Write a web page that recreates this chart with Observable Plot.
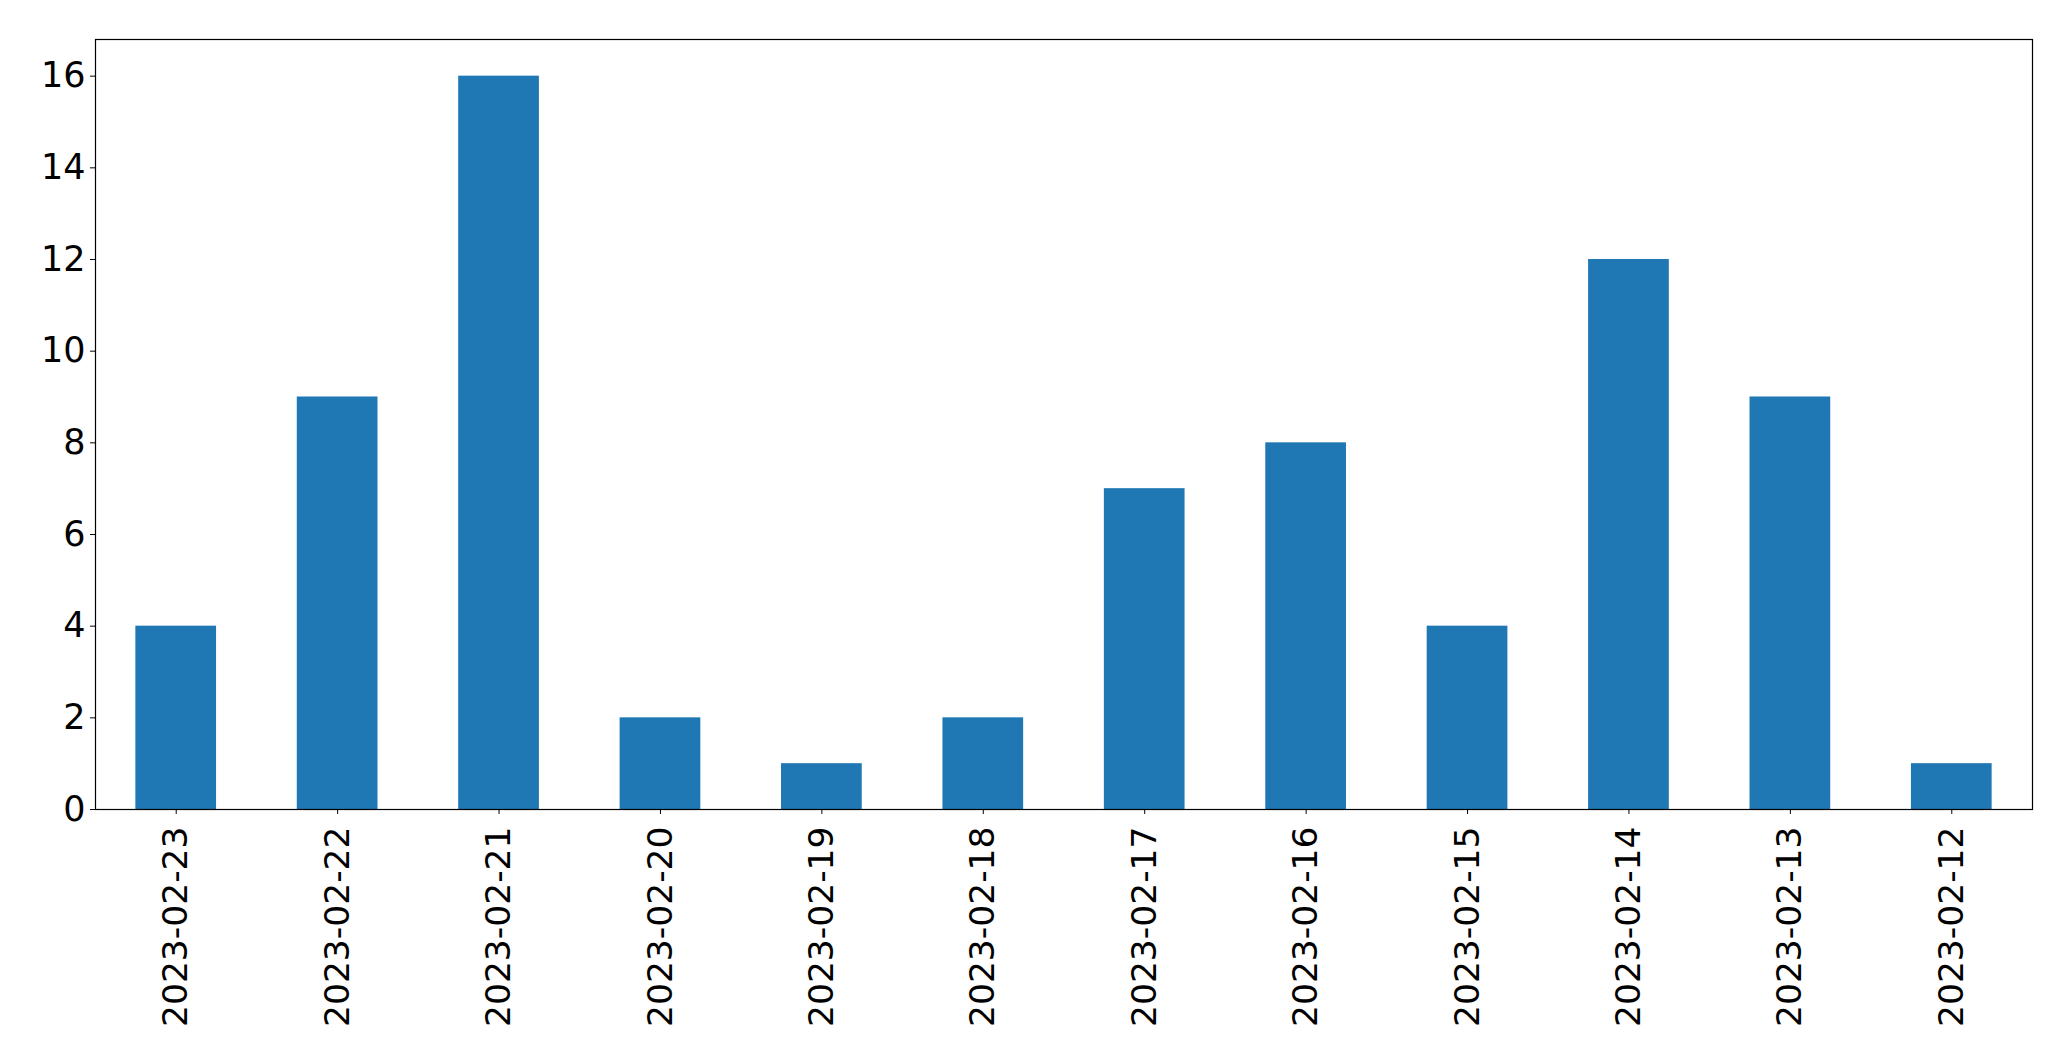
<!DOCTYPE html>
<html>
<head>
<meta charset="utf-8">
<script src="https://cdn.jsdelivr.net/npm/d3@7"></script>
<script src="https://cdn.jsdelivr.net/npm/@observablehq/plot@0.6"></script>
<style>
  html, body { margin: 0; padding: 0; background: #fff; }
  #chart svg { display: block; }
</style>
</head>
<body>
<div id="chart"></div>
<script>
const dates = ["2023-02-23","2023-02-22","2023-02-21","2023-02-20","2023-02-19","2023-02-18","2023-02-17","2023-02-16","2023-02-15","2023-02-14","2023-02-13","2023-02-12"];
const counts = [4, 9, 16, 2, 1, 2, 7, 8, 4, 12, 9, 1];
const yTicks = [0, 2, 4, 6, 8, 10, 12, 14, 16];

const data = dates.map((d, i) => ({date: d, count: counts[i]}));

const chart = Plot.plot({
  width: 2071,
  height: 1061,
  marginLeft: 95,
  marginRight: 39,
  marginTop: 39,
  marginBottom: 252,
  style: {fontFamily: "DejaVu Sans", fontSize: "35px", color: "#000", background: "#fff"},
  x: {type: "band", domain: dates, paddingInner: 0.5, paddingOuter: 0.25, round: false, label: null},
  y: {domain: [0, 16.8], label: null},
  marks: [
    Plot.barY(data, {x: "date", y: "count", fill: "#1f77b4"}),
    Plot.axisX({tickRotate: -90, tickSize: 5, tickPadding: 12, fontSize: 34.5, label: null, stroke: "#000"}),
    Plot.axisY({ticks: yTicks, tickSize: 5, tickPadding: 5, fontSize: 35, label: null, stroke: "#000"}),
    Plot.frame({stroke: "#000", strokeWidth: 1.2})
  ]
});
document.getElementById("chart").appendChild(chart);
</script>
</body>
</html>
